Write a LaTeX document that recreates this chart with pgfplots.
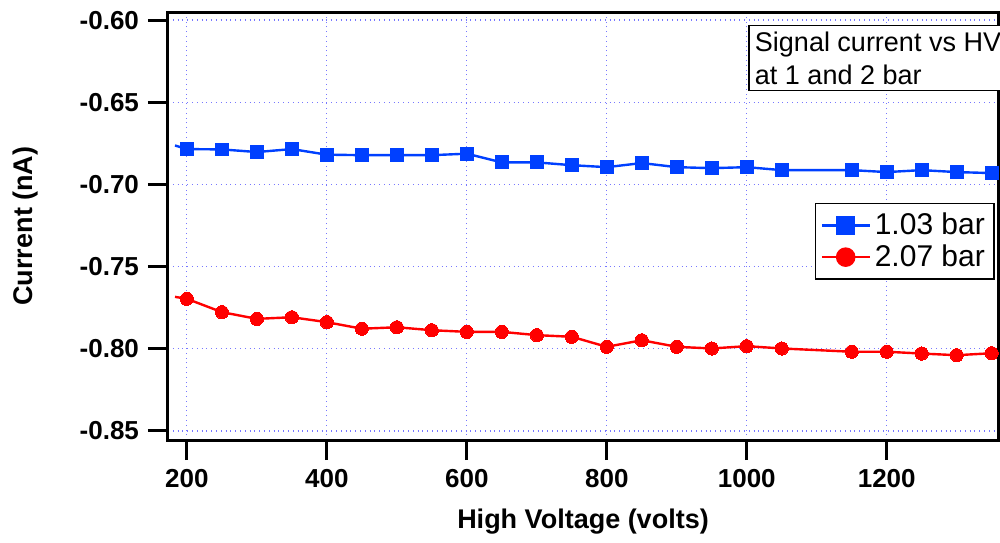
\documentclass[border=0pt]{standalone}
\usepackage{fontspec}
\setmainfont{Liberation Sans}
\usepackage{pgfplots}
\pgfplotsset{compat=1.18}
\definecolor{igblue}{RGB}{0,64,255}
\definecolor{igred}{RGB}{255,0,0}
\definecolor{igrid}{RGB}{120,120,255}

\begin{document}
\fontsize{13}{15.6}\selectfont
\begin{tikzpicture}
\begin{axis}[
    scale only axis,
    width=415pt, height=214pt,
    xmin=173, xmax=1359,
    ymin=-0.8555, ymax=-0.5951,
    axis line style={line width=1.5pt},
    tick style={line width=1.5pt, black},
    tick align=outside,
    major tick length=10pt,
    xtick pos=bottom, ytick pos=left,
    xtick={200,400,600,800,1000,1200},
    xticklabels={200,400,600,800,1000,1200},
    ytick={-0.85,-0.80,-0.75,-0.70,-0.65,-0.60},
    yticklabels={-0.85,-0.80,-0.75,-0.70,-0.65,-0.60},
    ticklabel style={font=\bfseries},
    label style={font=\fontsize{13.5}{16}\selectfont\bfseries},
    xlabel={High Voltage (volts)},
    ylabel={Current (nA)},
    ylabel shift=12pt,
    xlabel shift=2pt,
    grid=major,
    major grid style={igrid, dotted, line width=0.6pt},
    legend style={at={(rel axis cs:0.996,0.554)}, anchor=north east,
        draw=black, line width=0.8pt, font=\fontsize{15}{17}\selectfont,
        inner sep=2.5pt, row sep=-1pt},
    legend cell align=left,
    legend image code/.code={\draw[mark repeat=2,mark phase=2,mark options={scale=1.3}] plot coordinates {(0cm,0cm) (0.42cm,0cm) (0.84cm,0cm)};},
    clip=false,
]
\addplot[igblue, line width=1.2pt, mark=square*, mark size=3.2pt, mark repeat=1, mark phase=2,
    mark options={solid, fill=igblue, draw=igblue, line width=0pt}] coordinates {
(183,-0.6763) (200,-0.6785) (250,-0.6787) (300,-0.6803) (350,-0.6785)
(400,-0.6819) (450,-0.6822) (500,-0.6822) (550,-0.6822) (600,-0.6813)
(650,-0.6866) (700,-0.6866) (750,-0.6883) (800,-0.6895) (850,-0.6870)
(900,-0.6895) (950,-0.6901) (1000,-0.6895) (1050,-0.6913) (1150,-0.6913)
(1200,-0.6925) (1250,-0.6913) (1300,-0.6925) (1350,-0.6931)
};
\addlegendentry{1.03 bar}
\addplot[igred, line width=1.2pt, mark=*, mark size=3.3pt, mark repeat=1, mark phase=2,
    mark options={solid, fill=igred, draw=igred, line width=0pt}] coordinates {
(183,-0.7684) (200,-0.7696) (250,-0.7777) (300,-0.7818) (350,-0.7808)
(400,-0.7838) (450,-0.7878) (500,-0.7869) (550,-0.7887) (600,-0.7897)
(650,-0.7897) (700,-0.7917) (750,-0.7927) (800,-0.7988) (850,-0.7948)
(900,-0.7988) (950,-0.7998) (1000,-0.7984) (1050,-0.7998) (1150,-0.8018)
(1200,-0.8018) (1250,-0.8029) (1300,-0.8039) (1350,-0.8027)
};
\addlegendentry{2.07 bar}
\node[draw=black, line width=0.8pt, anchor=north west, align=left,
      fill=white, inner sep=3pt, font=\fontsize{13.5}{16.5}\selectfont]
  at (rel axis cs:0.699,0.970) {Signal current vs HV\\at 1 and 2 bar};
\coordinate (bl) at (rel axis cs:0,0);
\coordinate (tr) at (rel axis cs:1,1);
\end{axis}
\pgfresetboundingbox
\path[use as bounding box] ([shift={(-84pt,-51pt)}]bl) rectangle ([shift={(1pt,6pt)}]tr);
\end{tikzpicture}
\end{document}
